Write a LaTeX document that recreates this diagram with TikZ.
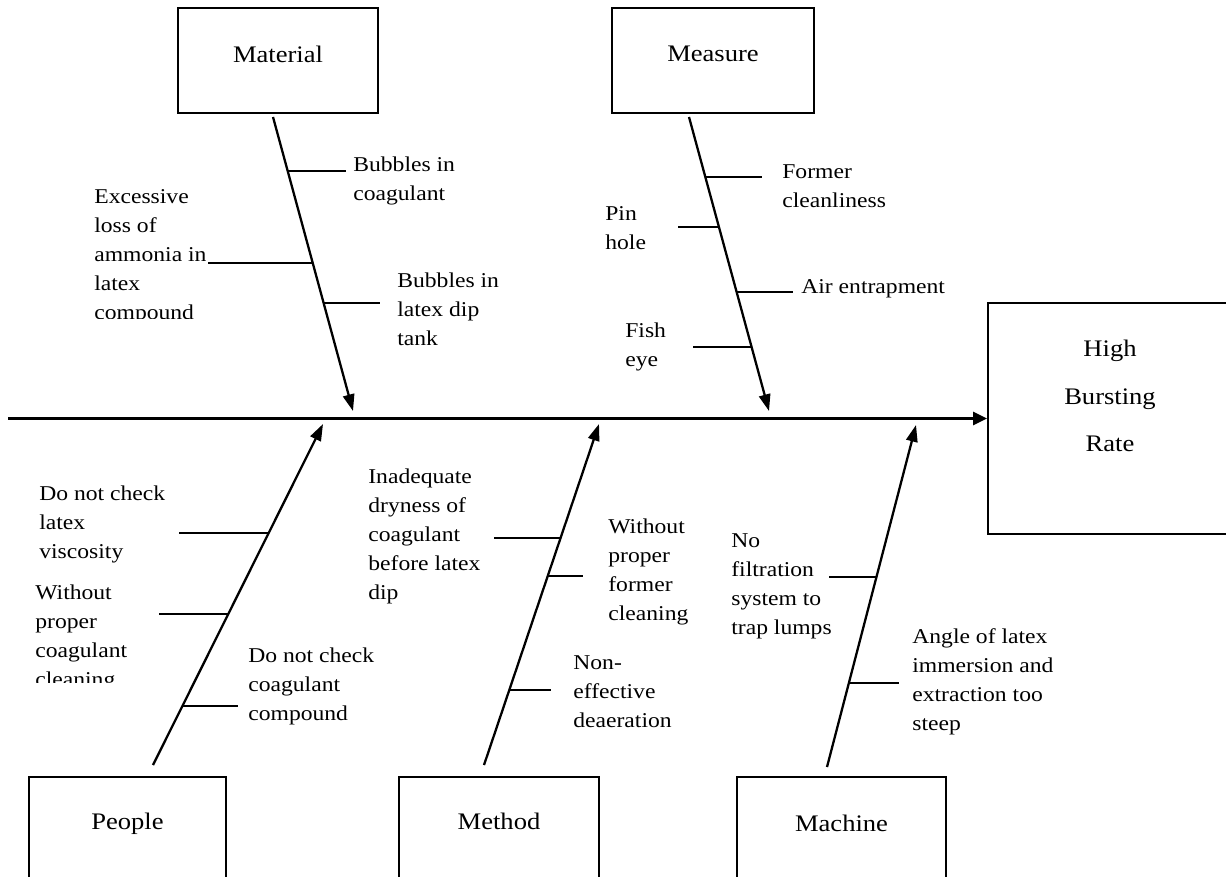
\documentclass[tikz,border=0pt]{standalone}
\usepackage{fontspec}
\setmainfont[FakeStretch=1.12]{Liberation Serif}
\usetikzlibrary{arrows.meta}
\tikzset{
  catbox/.style={draw, line width=1.1pt, inner sep=0pt, align=center,
    font=\fontsize{13.5pt}{27.2pt}\selectfont},
  cause/.style={anchor=base west, inner sep=0pt, align=left,
    font=\fontsize{12pt}{16.55pt}\selectfont},
  bone/.style={line width=1.3pt, -{Triangle[length=9.5pt,width=6.5pt]}},
  spine/.style={line width=1.3pt, -{Triangle[length=8pt,width=7.5pt]}},
  twig/.style={line width=0.85pt},
}
\begin{document}
\begin{tikzpicture}[x=0.02cm,y=-0.02cm]
\useasboundingbox (0,0) rectangle (1226,876);
\clip (0,0) rectangle (1226,876);

% category boxes
\node[catbox, minimum width=4cm, minimum height=2.1cm, text height=9pt, text depth=6.17pt] (mat) at (278,60.5) {Material};
\node[catbox, minimum width=4.04cm, minimum height=2.1cm, text height=9pt, text depth=7.3pt] (mea) at (713,60.5) {Measure};
\node[catbox, minimum width=3.94cm, minimum height=2.1cm, text height=8pt, text depth=8.57pt] (peo) at (127.5,829.5) {People};
\node[catbox, minimum width=4cm, minimum height=2.1cm, text height=8pt, text depth=8.57pt] (met) at (499,829.5) {Method};
\node[catbox, minimum width=4.18cm, minimum height=2.1cm, text height=9pt, text depth=7.3pt] (mac) at (841.5,829.5) {Machine};
\node[catbox, minimum width=4.88cm, minimum height=4.62cm, text height=38pt, text depth=0pt] (high) at (1110,418.5) {High\\Bursting\\Rate};

% spine
\coordinate (spA) at (8,418.5);
\draw[spine] (spA) -- (high.west);

% bones
\coordinate (mA) at (273,117); \coordinate (mB) at (353,411);
\coordinate (sA) at (689,117); \coordinate (sB) at (769,411);
\coordinate (pA) at (153,765); \coordinate (pB) at (323,424);
\coordinate (dA) at (484,765); \coordinate (dB) at (599,424);
\coordinate (cA) at (827,767); \coordinate (cB) at (916,425);
\draw[bone] (mA) -- (mB);
\draw[bone] (sA) -- (sB);
\draw[bone] (pA) -- (pB);
\draw[bone] (dA) -- (dB);
\draw[bone] (cA) -- (cB);

% Material causes (anchor = baseline of last line)
\node[cause] (m1) at (353,200.2) {Bubbles in\\coagulant};
\begin{scope}
  \clip (80,170) rectangle (220,318);
  \node[cause] (m2) at (94,319.8) {Excessive\\loss of\\ammonia in\\latex\\compound};
\end{scope}
\node[cause] (m3) at (397,345.4) {Bubbles in\\latex dip\\tank};
\draw[twig] (287,171) -- (346,171);
\draw[twig] (208,263) -- (313,263);
\draw[twig] (324,303) -- (380,303);

% Measure causes
\node[cause] (s1) at (782,207.2) {Former\\cleanliness};
\node[cause] (s2) at (605,249.2) {Pin\\hole};
\node[cause] (s3) at (801,293) {Air entrapment};
\node[cause] (s4) at (625,366.2) {Fish\\eye};
\draw[twig] (705,177) -- (762,177);
\draw[twig] (678,227) -- (719,227);
\draw[twig] (737,292) -- (793,292);
\draw[twig] (693,347) -- (752,347);

% People causes
\node[cause] (p1) at (39,558.4) {Do not check\\latex\\viscosity};
\begin{scope}
  \clip (25,570) rectangle (170,682);
  \node[cause] (p2) at (35,686.6) {Without\\proper\\coagulant\\cleaning};
\end{scope}
\node[cause] (p3) at (248,720.4) {Do not check\\coagulant\\compound};
\draw[twig] (179,533) -- (269,533);
\draw[twig] (159,614) -- (228,614);
\draw[twig] (182,706) -- (238,706);

% Method causes
\node[cause] (d1) at (368,599.8) {Inadequate\\dryness of\\coagulant\\before latex\\dip};
\node[cause] (d2) at (608,620.6) {Without\\proper\\former\\cleaning};
\node[cause] (d3) at (573,727.4) {Non-\\effective\\deaeration};
\draw[twig] (494,538) -- (561,538);
\draw[twig] (548,576) -- (583,576);
\draw[twig] (509,690) -- (551,690);

% Machine causes
\node[cause] (c1) at (731,634.6) {No\\filtration\\system to\\trap lumps};
\node[cause] (c2) at (912,730.6) {Angle of latex\\immersion and\\extraction too\\steep};
\draw[twig] (829,577) -- (876,577);
\draw[twig] (849,683) -- (899,683);
\end{tikzpicture}
\end{document}
